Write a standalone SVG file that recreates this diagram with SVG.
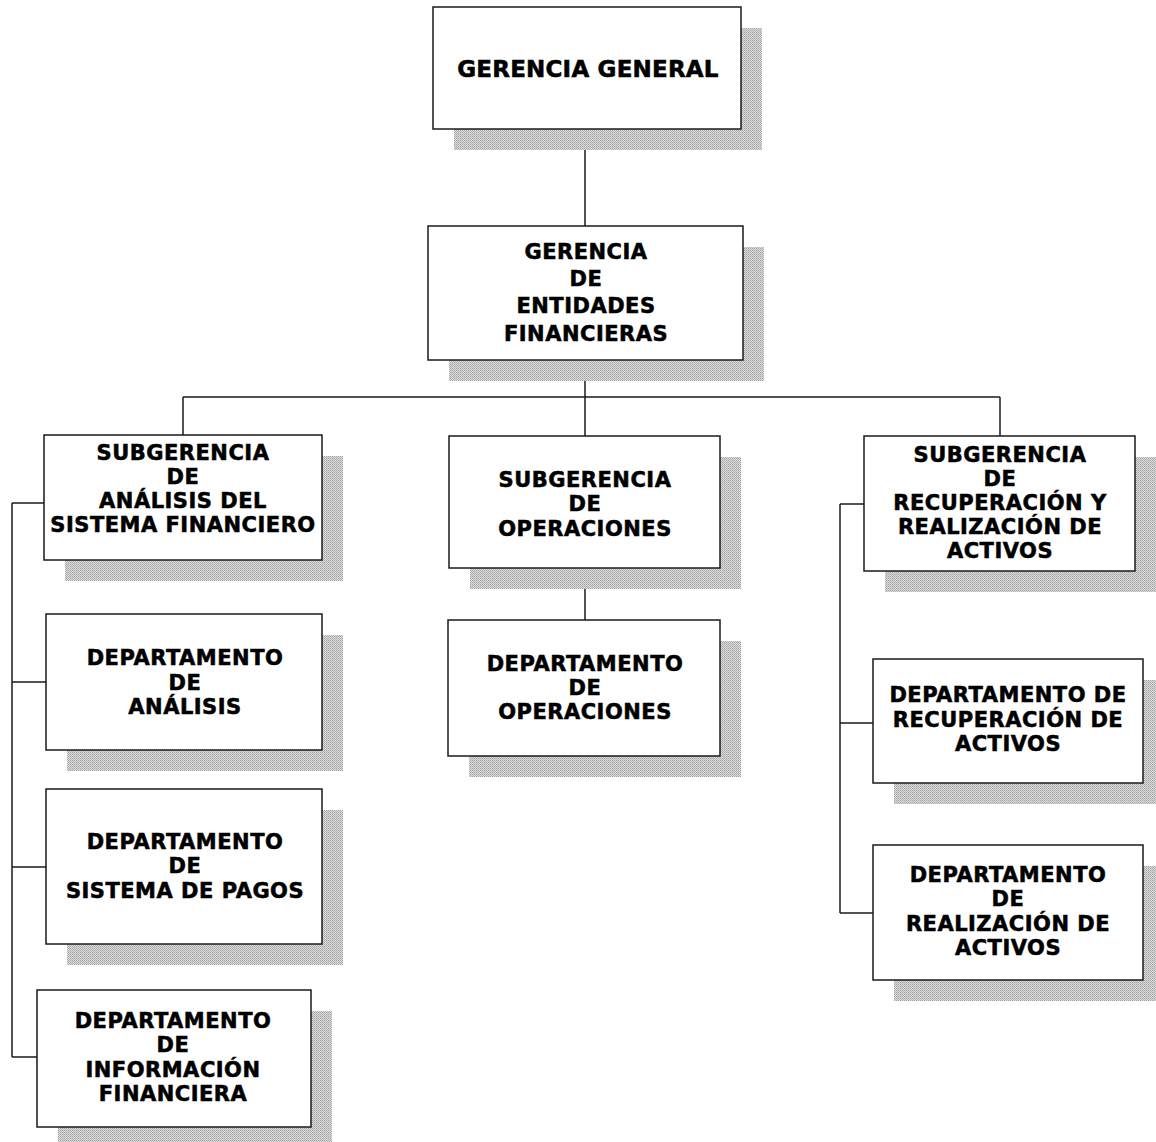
<svg xmlns="http://www.w3.org/2000/svg" width="1156" height="1142" viewBox="0 0 1156 1142">
<defs>
<pattern id="dots" width="2" height="2" patternUnits="userSpaceOnUse">
<rect width="2" height="2" fill="#dcdcdc"/>
<rect width="1" height="1" fill="#a2a2a2"/>
<rect x="1" y="1" width="1" height="1" fill="#b6b6b6"/>
</pattern>
</defs>
<style>
.sh{fill:url(#dots)}
.bx{fill:#fff;stroke:#1a1a1a;stroke-width:1.5}
.t{font-family:"DejaVu Sans","Liberation Sans",sans-serif;font-weight:bold;font-size:21px;letter-spacing:0.5px;fill:#000;stroke:#000;stroke-width:0.55;text-anchor:middle}
.big{font-size:23px;letter-spacing:0.2px}
.c{stroke:#1a1a1a;stroke-width:1.5;fill:none}
</style>
<rect width="1156" height="1142" fill="#fff"/>

<g id="connectors">
<path class="c" d="M585 129V226"/>
<path class="c" d="M585 360V436"/>
<path class="c" d="M183 397H1000"/>
<path class="c" d="M183 397V435"/>
<path class="c" d="M1000 397V436"/>
<path class="c" d="M585 568V620"/>
<path class="c" d="M12 503V1057"/>
<path class="c" d="M12 503H44"/>
<path class="c" d="M12 682H46"/>
<path class="c" d="M12 867H46"/>
<path class="c" d="M12 1057H37"/>
<path class="c" d="M840 504V913"/>
<path class="c" d="M840 504H864"/>
<path class="c" d="M840 723H873"/>
<path class="c" d="M840 913H873"/>
</g>

<g id="gerencia-general">
<rect class="sh" x="454" y="28" width="308" height="122"/>
<rect class="bx" x="433" y="7" width="308" height="122"/>
<text class="t big" x="588" y="77">GERENCIA GENERAL</text>
</g>

<g id="gerencia-entidades">
<rect class="sh" x="449" y="247" width="315" height="134"/>
<rect class="bx" x="428" y="226" width="315" height="134"/>
<text class="t" x="586" y="259">GERENCIA</text>
<text class="t" x="586" y="286">DE</text>
<text class="t" x="586" y="313">ENTIDADES</text>
<text class="t" x="586" y="341">FINANCIERAS</text>
</g>

<g id="subgerencia-analisis">
<rect class="sh" x="65" y="456" width="278" height="125"/>
<rect class="bx" x="44" y="435" width="278" height="125"/>
<text class="t" x="183" y="460">SUBGERENCIA</text>
<text class="t" x="183" y="484">DE</text>
<text class="t" x="183" y="508">ANÁLISIS DEL</text>
<text class="t" x="183" y="532">SISTEMA FINANCIERO</text>
</g>

<g id="subgerencia-operaciones">
<rect class="sh" x="470" y="457" width="271" height="132"/>
<rect class="bx" x="449" y="436" width="271" height="132"/>
<text class="t" x="585" y="487">SUBGERENCIA</text>
<text class="t" x="585" y="511">DE</text>
<text class="t" x="585" y="536">OPERACIONES</text>
</g>

<g id="subgerencia-recuperacion">
<rect class="sh" x="885" y="457" width="271" height="135"/>
<rect class="bx" x="864" y="436" width="271" height="135"/>
<text class="t" x="1000" y="462">SUBGERENCIA</text>
<text class="t" x="1000" y="486">DE</text>
<text class="t" x="1000" y="510">RECUPERACIÓN Y</text>
<text class="t" x="1000" y="534">REALIZACIÓN DE</text>
<text class="t" x="1000" y="558">ACTIVOS</text>
</g>

<g id="depto-analisis">
<rect class="sh" x="67" y="635" width="276" height="136"/>
<rect class="bx" x="46" y="614" width="276" height="136"/>
<text class="t" x="185" y="665">DEPARTAMENTO</text>
<text class="t" x="185" y="690">DE</text>
<text class="t" x="185" y="714">ANÁLISIS</text>
</g>

<g id="depto-pagos">
<rect class="sh" x="67" y="810" width="276" height="155"/>
<rect class="bx" x="46" y="789" width="276" height="155"/>
<text class="t" x="185" y="849">DEPARTAMENTO</text>
<text class="t" x="185" y="873">DE</text>
<text class="t" x="185" y="898">SISTEMA DE PAGOS</text>
</g>

<g id="depto-informacion">
<rect class="sh" x="58" y="1011" width="274" height="137"/>
<rect class="bx" x="37" y="990" width="274" height="137"/>
<text class="t" x="173" y="1028">DEPARTAMENTO</text>
<text class="t" x="173" y="1052">DE</text>
<text class="t" x="173" y="1077">INFORMACIÓN</text>
<text class="t" x="173" y="1101">FINANCIERA</text>
</g>

<g id="depto-operaciones">
<rect class="sh" x="469" y="641" width="272" height="136"/>
<rect class="bx" x="448" y="620" width="272" height="136"/>
<text class="t" x="585" y="671">DEPARTAMENTO</text>
<text class="t" x="585" y="695">DE</text>
<text class="t" x="585" y="719">OPERACIONES</text>
</g>

<g id="depto-recuperacion">
<rect class="sh" x="894" y="680" width="262" height="124"/>
<rect class="bx" x="873" y="659" width="270" height="124"/>
<text class="t" x="1008" y="702">DEPARTAMENTO DE</text>
<text class="t" x="1008" y="727">RECUPERACIÓN DE</text>
<text class="t" x="1008" y="751">ACTIVOS</text>
</g>

<g id="depto-realizacion">
<rect class="sh" x="894" y="866" width="262" height="135"/>
<rect class="bx" x="873" y="845" width="270" height="135"/>
<text class="t" x="1008" y="882">DEPARTAMENTO</text>
<text class="t" x="1008" y="906">DE</text>
<text class="t" x="1008" y="931">REALIZACIÓN DE</text>
<text class="t" x="1008" y="955">ACTIVOS</text>
</g>
</svg>
